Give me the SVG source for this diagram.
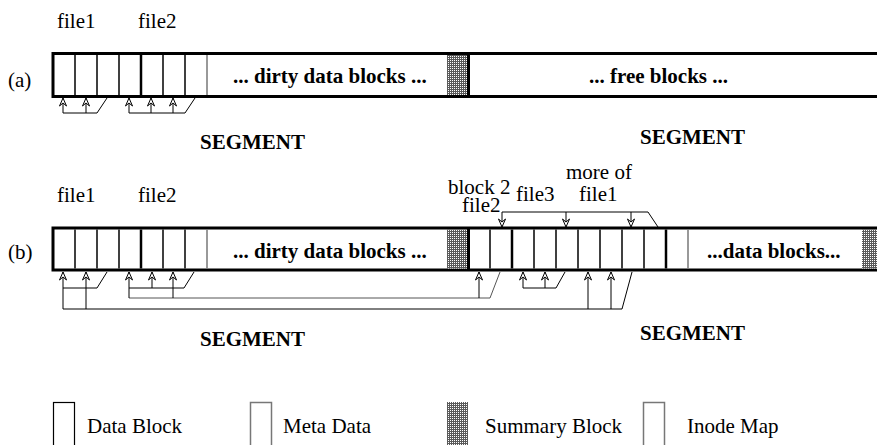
<svg xmlns="http://www.w3.org/2000/svg" width="877" height="445" viewBox="0 0 877 445">
<style>
text{font-family:"Liberation Serif","Times New Roman",serif;font-size:21px;fill:#000}
.b{font-weight:bold}
.seg{fill:#fff;stroke:#000;stroke-width:3}
.d{stroke:#000;stroke-width:1.5}
.dk{stroke:#000;stroke-width:2.5}
.dg{stroke:#777;stroke-width:1.5}
.c{fill:none;stroke:#000;stroke-width:1}
.cg{fill:none;stroke:#555;stroke-width:1}
.sum{fill:url(#mesh)}
.lg{fill:#fff;stroke:#000;stroke-width:1.2}
.lgg{fill:#fff;stroke:#777;stroke-width:1.5}
</style>
<defs>
<pattern id="mesh" width="2" height="2" patternUnits="userSpaceOnUse">
<rect width="2" height="2" fill="#5a5a5a"/>
<rect width="1" height="1" fill="#ffffff"/>
</pattern>
<marker id="ah" viewBox="-10 -5 11 10" refX="0" refY="0" markerWidth="11" markerHeight="10" markerUnits="userSpaceOnUse" orient="auto">
<path d="M0,0 L-8,-3.5 L-5,0 L-8,3.5 Z" fill="#fff" stroke="#000" stroke-width="1"/>
</marker>
</defs>

<!-- labels -->
<text x="57" y="28">file1</text>
<text x="138" y="28">file2</text>
<text x="8" y="87">(a)</text>
<text x="57" y="202">file1</text>
<text x="138" y="202">file2</text>
<text x="8" y="259">(b)</text>
<text><tspan x="448" y="194">block 2</tspan><tspan x="462" y="212">file2</tspan></text>
<text x="516" y="201">file3</text>
<text><tspan x="566" y="179">more of</tspan><tspan x="579" y="201">file1</tspan></text>
<text class="b" x="200" y="149">SEGMENT</text>
<text class="b" x="640" y="144">SEGMENT</text>
<text class="b" x="200" y="346">SEGMENT</text>
<text class="b" x="640" y="340">SEGMENT</text>

<!-- row (a) -->
<g id="row-a">
<rect class="seg" x="53" y="53.5" width="840" height="43"/>
<line class="d" x1="75" y1="55" x2="75" y2="95"/>
<line class="d" x1="97" y1="55" x2="97" y2="95"/>
<line class="d" x1="119" y1="55" x2="119" y2="95"/>
<line class="dk" x1="141" y1="55" x2="141" y2="95"/>
<line class="d" x1="163" y1="55" x2="163" y2="95"/>
<line class="d" x1="185" y1="55" x2="185" y2="95"/>
<line class="dg" x1="207" y1="55" x2="207" y2="95"/>
<rect class="sum" x="447" y="55" width="20" height="40"/>
<line stroke="#000" stroke-width="3" x1="468.5" y1="53.5" x2="468.5" y2="96.5"/>
<text class="b" x="233" y="83">... dirty data blocks ...</text>
<text class="b" x="589" y="83">... free blocks ...</text>
</g>

<!-- row (b) -->
<g id="row-b">
<rect class="seg" x="53" y="228" width="840" height="42"/>
<line class="d" x1="75" y1="229.5" x2="75" y2="268.5"/>
<line class="d" x1="97" y1="229.5" x2="97" y2="268.5"/>
<line class="d" x1="119" y1="229.5" x2="119" y2="268.5"/>
<line class="dk" x1="141" y1="229.5" x2="141" y2="268.5"/>
<line class="d" x1="163" y1="229.5" x2="163" y2="268.5"/>
<line class="d" x1="185" y1="229.5" x2="185" y2="268.5"/>
<line class="dg" x1="207" y1="229.5" x2="207" y2="268.5"/>
<rect class="sum" x="447" y="229.5" width="20" height="39"/>
<line stroke="#000" stroke-width="3" x1="468.5" y1="228" x2="468.5" y2="270"/>
<line class="d" x1="490" y1="229.5" x2="490" y2="268.5"/>
<line class="dk" x1="512" y1="229.5" x2="512" y2="268.5"/>
<line class="d" x1="534" y1="229.5" x2="534" y2="268.5"/>
<line class="d" x1="556" y1="229.5" x2="556" y2="268.5"/>
<line class="d" x1="578" y1="229.5" x2="578" y2="268.5"/>
<line class="d" x1="600" y1="229.5" x2="600" y2="268.5"/>
<line class="d" x1="622" y1="229.5" x2="622" y2="268.5"/>
<line class="d" x1="644" y1="229.5" x2="644" y2="268.5"/>
<line class="dk" x1="666" y1="229.5" x2="666" y2="268.5"/>
<line class="dg" x1="688" y1="229.5" x2="688" y2="268.5"/>
<rect class="sum" x="862" y="229.5" width="16" height="39"/>
<text class="b" x="233" y="258">... dirty data blocks ...</text>
<text class="b" x="707" y="258">...data blocks...</text>
</g>

<!-- connectors -->
<g id="connectors">
<!-- (a) -->
<path class="c" d="M63,113 H97 L107,98"/>
<line class="c" x1="63" y1="113" x2="63" y2="98" marker-end="url(#ah)"/>
<line class="c" x1="86" y1="113" x2="86" y2="98" marker-end="url(#ah)"/>
<path class="c" d="M129,113 H185 L195,98"/>
<line class="c" x1="129" y1="113" x2="129" y2="98" marker-end="url(#ah)"/>
<line class="c" x1="151" y1="113" x2="151" y2="98" marker-end="url(#ah)"/>
<line class="c" x1="173" y1="113" x2="173" y2="98" marker-end="url(#ah)"/>
<!-- (b) file1 -->
<path class="c" d="M63,288 H97 L107,272"/>
<path class="c" d="M63,309 H622 L632,272"/>
<line class="c" x1="63" y1="309" x2="63" y2="272" marker-end="url(#ah)"/>
<line class="c" x1="86" y1="309" x2="86" y2="272" marker-end="url(#ah)"/>
<line class="c" x1="588" y1="309" x2="588" y2="272" marker-end="url(#ah)"/>
<line class="c" x1="611" y1="309" x2="611" y2="272" marker-end="url(#ah)"/>
<!-- (b) file2 -->
<path class="c" d="M129,288 H184 L194,272"/>
<path class="cg" d="M129,298 H490 L500,272"/>
<line class="c" x1="129" y1="298" x2="129" y2="272" marker-end="url(#ah)"/>
<line class="c" x1="152" y1="288" x2="152" y2="272" marker-end="url(#ah)"/>
<line class="c" x1="173" y1="298" x2="173" y2="272" marker-end="url(#ah)"/>
<line class="c" x1="479" y1="298" x2="479" y2="272" marker-end="url(#ah)"/>
<!-- (b) file3 -->
<path class="c" d="M523,288 H556 L565,272"/>
<line class="c" x1="523" y1="288" x2="523" y2="272" marker-end="url(#ah)"/>
<line class="c" x1="545" y1="288" x2="545" y2="272" marker-end="url(#ah)"/>
<!-- (b) top -->
<path class="c" d="M502,212 H648 L658,227"/>
<line class="c" x1="502" y1="212" x2="502" y2="227" marker-end="url(#ah)"/>
<line class="c" x1="566" y1="212" x2="566" y2="227" marker-end="url(#ah)"/>
<line class="c" x1="631" y1="212" x2="631" y2="227" marker-end="url(#ah)"/>
</g>

<!-- legend -->
<g id="legend">
<rect class="lg" x="53.5" y="402.5" width="21" height="50"/>
<text x="87" y="433">Data Block</text>
<rect class="lgg" x="250.5" y="402.5" width="21" height="50"/>
<text x="283" y="433">Meta Data</text>
<rect class="sum" x="447" y="402" width="21" height="50"/>
<text x="485" y="433">Summary Block</text>
<rect class="lgg" x="643.5" y="402.5" width="21" height="50"/>
<text x="687" y="433">Inode Map</text>
</g>
</svg>
